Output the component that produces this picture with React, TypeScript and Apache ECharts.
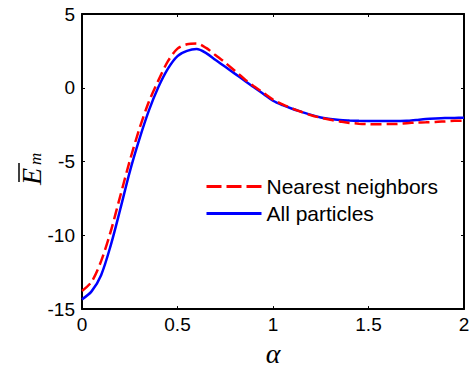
import React, { useEffect, useRef } from "react";
import * as echarts from "echarts";

const alpha = [
  0, 0.05, 0.1, 0.15, 0.2, 0.25, 0.3, 0.35, 0.4, 0.45, 0.5, 0.55, 0.6, 0.65, 0.7, 0.75, 0.8, 0.85, 0.9, 0.95,
  1.0, 1.05, 1.1, 1.15, 1.2, 1.25, 1.3, 1.35, 1.4, 1.45, 1.5, 1.55, 1.6, 1.65, 1.7, 1.75, 1.8, 1.85, 1.9, 1.95, 2.0,
];

const nearestNeighbors = [
  -13.77, -13.15, -11.75, -9.75, -7.35, -4.95, -2.8, -0.95, 0.5, 1.8, 2.65, 2.95, 3.0, 2.7, 2.2, 1.7, 1.15, 0.6, 0.1, -0.35,
  -0.8, -1.12, -1.4, -1.64, -1.86, -2.03, -2.17, -2.28, -2.38, -2.43, -2.46, -2.47, -2.46, -2.45, -2.4, -2.36, -2.34, -2.32, -2.28, -2.24, -2.23,
];

const allParticles = [
  -14.34, -13.8, -12.7, -10.7, -8.25, -5.7, -3.5, -1.55, 0.05, 1.3, 2.15, 2.5, 2.62, 2.35, 1.88, 1.42, 0.96, 0.5, 0.03, -0.42,
  -0.88, -1.18, -1.42, -1.63, -1.84, -2.01, -2.12, -2.19, -2.22, -2.24, -2.25, -2.25, -2.25, -2.25, -2.24, -2.18, -2.12, -2.08, -2.05, -2.04, -2.03,
];

const xTicks = [0, 0.5, 1, 1.5, 2];
const yTicks = [-15, -10, -5, 0, 5];
const seriesNames = ["Nearest neighbors", "All particles"];

const SANS = "'Liberation Sans', Arial, sans-serif";
const SERIF = "'Liberation Serif', 'Times New Roman', serif";

export default function App() {
  const ref = useRef<HTMLDivElement>(null);

  useEffect(() => {
    if (!ref.current) return;
    const chart = echarts.init(ref.current, null, { renderer: "svg" });
    const axisCommon = {
      axisLine: { show: true, onZero: false, lineStyle: { color: "#000", width: 2 } },
      axisTick: { show: true, inside: true, length: 3, lineStyle: { color: "#000", width: 1 } },
      splitLine: { show: false },
    };
    chart.setOption({
      animation: false,
      backgroundColor: "#fff",
      grid: { left: 82, right: 9, top: 14, bottom: 56, containLabel: false },
      xAxis: [
        {
          type: "value",
          min: xTicks[0],
          max: xTicks[xTicks.length - 1],
          interval: 0.5,
          position: "bottom",
          ...axisCommon,
          axisLabel: {
            color: "#000",
            fontFamily: SANS,
            fontSize: 19,
            margin: 6,
            showMaxLabel: true,
            showMinLabel: true,
            formatter: (v: number) => String(v),
          },
          name: "α",
          nameLocation: "middle",
          nameGap: 7,
          nameTextStyle: {
            color: "#000",
            fontFamily: SERIF,
            fontStyle: "italic",
            fontSize: 28,
            verticalAlign: "top",
          },
        },
        {
          type: "value",
          min: xTicks[0],
          max: xTicks[xTicks.length - 1],
          interval: 0.5,
          position: "top",
          ...axisCommon,
          axisLabel: { show: false },
        },
      ],
      yAxis: [
        {
          type: "value",
          min: yTicks[0],
          max: yTicks[yTicks.length - 1],
          interval: 5,
          position: "left",
          ...axisCommon,
          axisLabel: { color: "#000", fontFamily: SANS, fontSize: 19, margin: 7 },
        },
        {
          type: "value",
          min: yTicks[0],
          max: yTicks[yTicks.length - 1],
          interval: 5,
          position: "right",
          ...axisCommon,
          axisLabel: { show: false },
        },
      ],
      legend: {
        orient: "vertical",
        left: 205,
        top: 176,
        padding: 0,
        itemWidth: 55,
        itemHeight: 14,
        itemGap: 6,
        textStyle: { color: "#000", fontFamily: SANS, fontSize: 21 },
        itemStyle: { opacity: 0 },
        data: [
          { name: seriesNames[0], lineStyle: { type: [15, 5], width: 3 }, itemStyle: { opacity: 0 } },
          { name: seriesNames[1], lineStyle: { width: 3 }, itemStyle: { opacity: 0 } },
        ],
      },
      series: [
        {
          name: seriesNames[0],
          type: "line",
          showSymbol: false,
          symbol: "none",
          smooth: 0.3,
          data: alpha.map((a, i) => [a, nearestNeighbors[i]]),
          lineStyle: { color: "#ff0000", width: 2.5, type: [11, 5] },
          itemStyle: { color: "#ff0000" },
          z: 3,
        },
        {
          name: seriesNames[1],
          type: "line",
          showSymbol: false,
          symbol: "none",
          smooth: 0.3,
          data: alpha.map((a, i) => [a, allParticles[i]]),
          lineStyle: { color: "#0000ff", width: 2.5, type: "solid" },
          itemStyle: { color: "#0000ff" },
          z: 2,
        },
      ],
      graphic: [
        {
          type: "group",
          x: 41,
          y: 185,
          rotation: Math.PI / 2,
          children: [
            {
              type: "text",
              x: 0,
              y: -10,
              style: {
                text: "E",
                fill: "#000",
                font: `italic 28px ${SERIF}`,
                textAlign: "left",
                textVerticalAlign: "middle",
              },
            },
            {
              type: "text",
              x: 20,
              y: -6,
              style: {
                text: "m",
                fill: "#000",
                font: `italic 17px ${SERIF}`,
                textAlign: "left",
                textVerticalAlign: "middle",
              },
            },
            {
              type: "line",
              shape: { x1: 3, y1: -22, x2: 22, y2: -22 },
              style: { stroke: "#000", lineWidth: 1.5 },
            },
          ],
        },
      ],
    });
    return () => chart.dispose();
  }, []);

  return (
    <div
      ref={ref}
      style={{ position: "absolute", left: 0, top: 0, width: 473, height: 372 }}
    />
  );
}
